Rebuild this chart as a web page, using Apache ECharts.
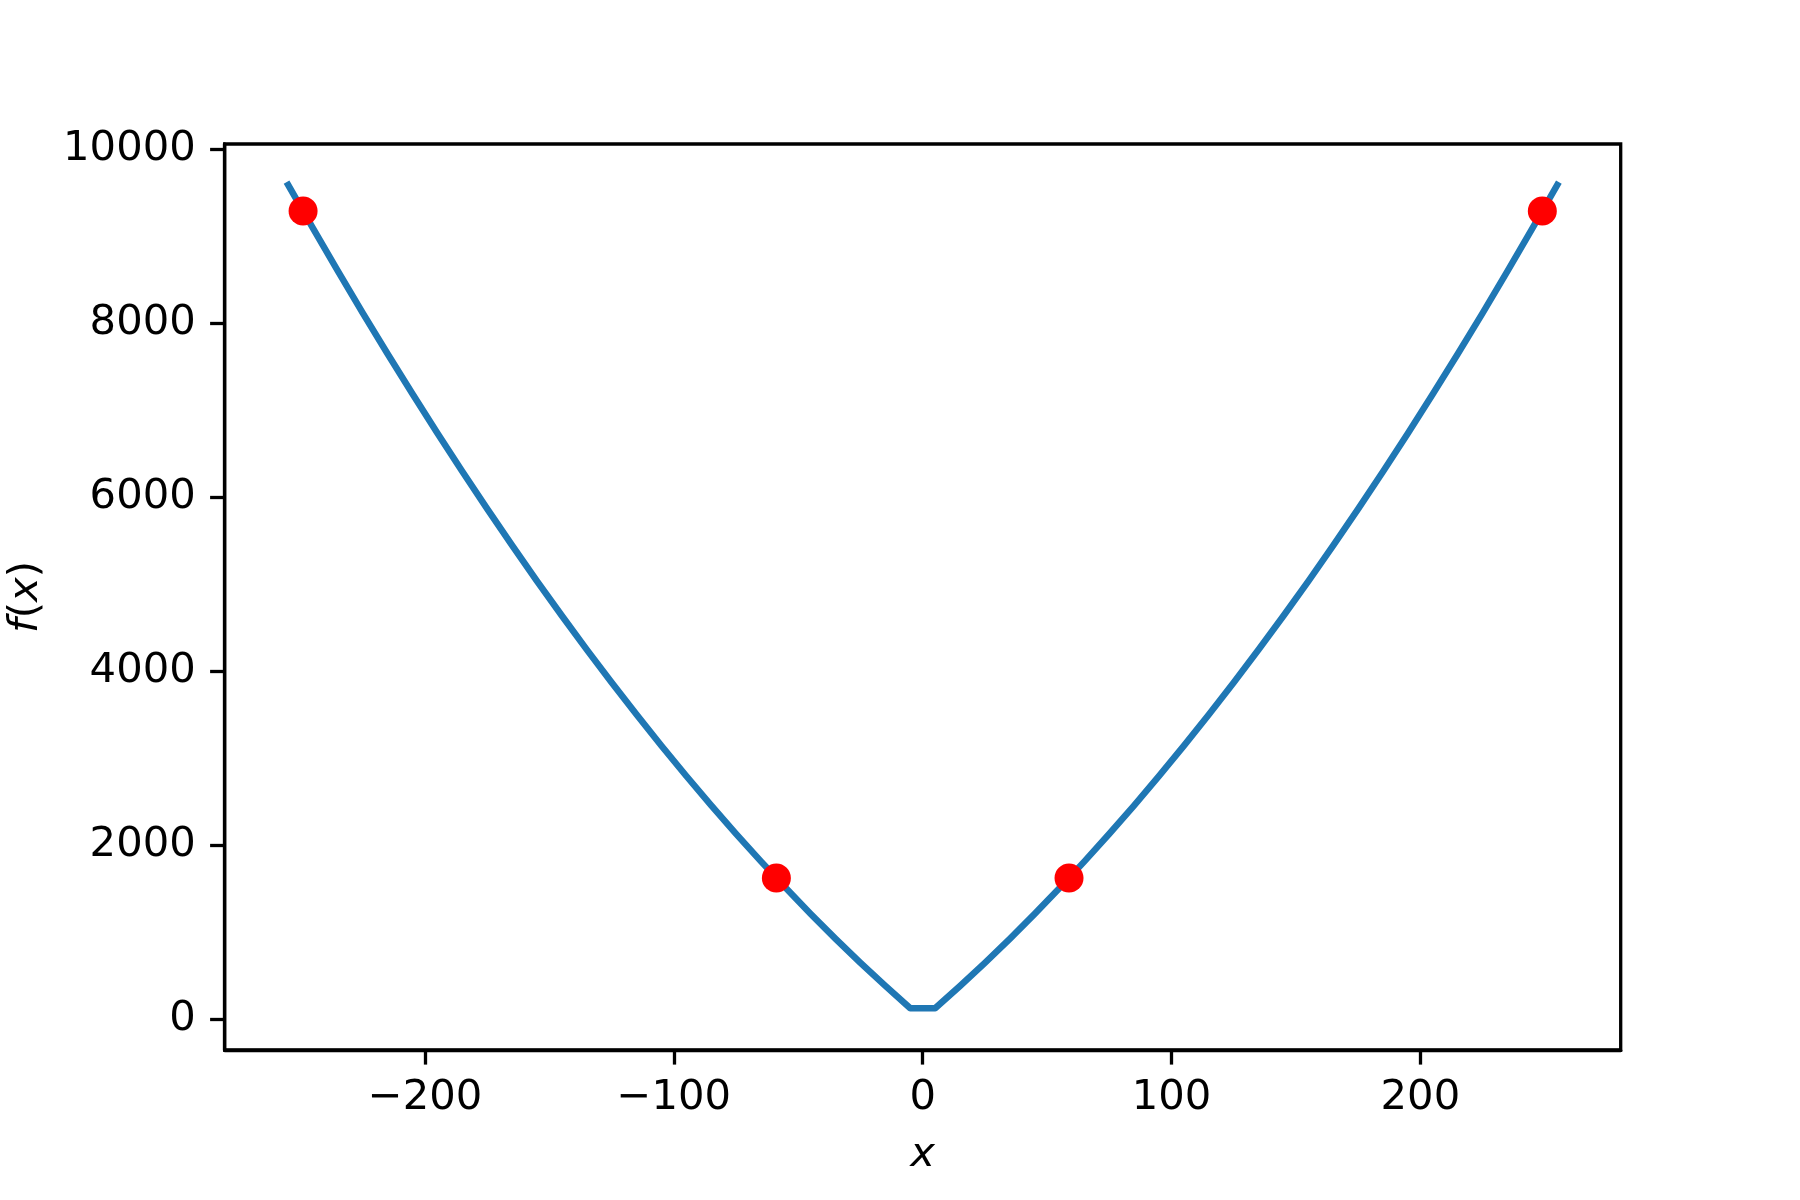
<!DOCTYPE html>
<html>
<head>
<meta charset="utf-8">
<script src="https://cdn.jsdelivr.net/npm/echarts@6/dist/echarts.min.js"></script>
<style>
  html, body { margin: 0; padding: 0; background: #ffffff; }
  #chart { width: 1800px; height: 1200px; }
</style>
</head>
<body>
<div id="chart"></div>
<script>
// Curve samples (x, f(x))
const curveX = [-255, -245, -235, -225, -215, -205, -195, -185, -175, -165, -155, -145, -135, -125, -115, -105, -95, -85, -75, -65, -55, -45, -35, -25, -15, -5,
                5, 15, 25, 35, 45, 55, 65, 75, 85, 95, 105, 115, 125, 135, 145, 155, 165, 175, 185, 195, 205, 215, 225, 235, 245, 255];
const curveY = [9591, 9090, 8599, 8117, 7647, 7186, 6736, 6296, 5866, 5446, 5036, 4637, 4248, 3870, 3501, 3143, 2795, 2457, 2130, 1813, 1506, 1209, 922, 646, 380, 124,
                124, 380, 646, 922, 1209, 1506, 1813, 2130, 2457, 2795, 3143, 3501, 3870, 4248, 4637, 5036, 5446, 5866, 6296, 6736, 7186, 7647, 8117, 8599, 9090, 9591];
// Highlighted points
const pointX = [-249, -58.8, 58.8, 249];
const pointY = [9290, 1621, 1621, 9290];
// Tick labels
const xTicks = [-200, -100, 0, 100, 200];
const yTicks = [0, 2000, 4000, 6000, 8000, 10000];

const FONT = 'DejaVu Sans';
const FS = 41.7;

const chart = echarts.init(document.getElementById('chart'), null, { renderer: 'canvas' });

const lineData = curveX.map((x, i) => [x, curveY[i]]);
const pointData = pointX.map((x, i) => [x, pointY[i]]);

const fmt = v => String(v).replace('-', '\u2212');

chart.setOption({
  animation: false,
  backgroundColor: '#ffffff',
  grid: {
    left: 224.7, right: 179.3, top: 144, bottom: 150,
    show: true, borderColor: '#000000', borderWidth: 3.3, backgroundColor: '#ffffff',
    containLabel: false,
    outerBoundsMode: 'none'
  },
  xAxis: {
    type: 'value',
    min: -280.5, max: 280.5,
    splitLine: { show: false },
    axisLine: { show: true, onZero: false, lineStyle: { color: '#000', width: 3.3 } },
    axisTick: { show: true, length: 14.6, inside: false, customValues: xTicks, lineStyle: { color: '#000', width: 3.3 } },
    axisLabel: { show: true, customValues: xTicks, margin: 27, formatter: fmt, fontFamily: FONT, fontSize: FS, color: '#000' },
    name: 'x',
    nameLocation: 'middle',
    nameGap: 84,
    nameTextStyle: { fontFamily: FONT, fontSize: FS, fontStyle: 'italic', color: '#000' }
  },
  yAxis: {
    type: 'value',
    min: -356, max: 10061,
    splitLine: { show: false },
    axisLine: { show: true, onZero: false, lineStyle: { color: '#000', width: 3.3 } },
    axisTick: { show: true, length: 14.6, customValues: yTicks, lineStyle: { color: '#000', width: 3.3 } },
    axisLabel: { show: true, customValues: yTicks, margin: 29, formatter: fmt, fontFamily: FONT, fontSize: FS, color: '#000' },
    name: '{i|f}{n|(}{i|x}{n|)}',
    nameLocation: 'middle',
    nameGap: 178,
    nameRotate: 90,
    nameTextStyle: {
      fontFamily: FONT, fontSize: FS, color: '#000',
      rich: {
        i: { fontFamily: FONT, fontSize: FS, fontStyle: 'italic', color: '#000' },
        n: { fontFamily: FONT, fontSize: FS, color: '#000' }
      }
    }
  },
  series: [
    {
      type: 'line',
      data: lineData,
      showSymbol: false,
      symbol: 'none',
      clip: false,
      lineStyle: { color: '#1f77b4', width: 6.5, cap: 'square', join: 'round' },
      z: 2
    },
    {
      type: 'scatter',
      data: pointData,
      symbol: 'circle',
      symbolSize: 29,
      itemStyle: { color: '#ff0000', opacity: 1 },
      z: 3
    }
  ]
});
</script>
</body>
</html>
